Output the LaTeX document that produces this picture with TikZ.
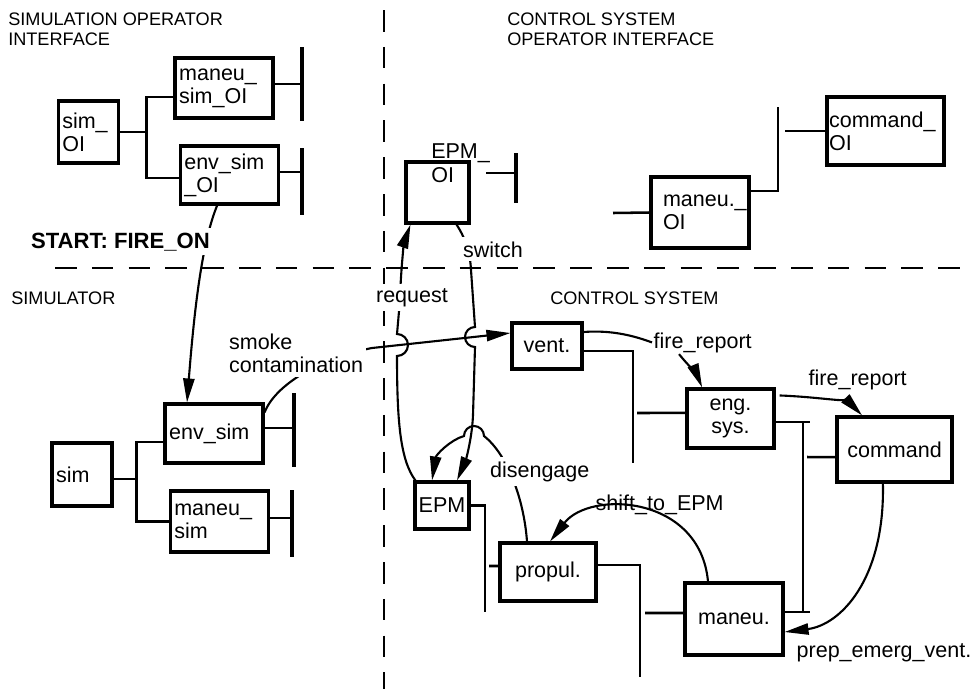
\documentclass[tikz,border=0pt]{standalone}
\usepackage{fontspec}
\setmainfont{Liberation Sans}
\usetikzlibrary{arrows.meta}

\begin{document}
\begin{tikzpicture}[
  x=0.25mm, y=0.25mm,
  font=\fontsize{15.3}{16.5}\selectfont,
  box/.style={draw, line width=2.2pt, inner sep=2pt, align=center},
  lbox/.style={draw, line width=2.2pt, inner xsep=3pt, inner ysep=0pt,
               align=left, text width=#1},
  region/.style={font=\fontsize{12.9}{13.8}\selectfont, align=left,
                 anchor=north west, inner sep=0pt},
  lab/.style={inner sep=1pt, anchor=base west},
  blank/.style={fill=white, inner xsep=2pt, inner ysep=3pt},
  wire/.style={line width=1.8pt},
  bar/.style={line width=2.4pt},
  arr/.style={line width=1.5pt, -{Triangle[length=6mm, width=2.8mm]}},
  divider/.style={line width=2pt, dash pattern=on 5.4mm off 3.8mm}]
\useasboundingbox[fill=white] (0,0) rectangle (973,-689);

% partitions
\draw[divider] (384,-10) -- (384,-689);
\draw[divider] (55,-268) -- (973,-268);
\node[region] (simoilab) at (8,-13) {SIMULATION OPERATOR\\INTERFACE};
\node[region] (csoilab) at (507,-13) {CONTROL SYSTEM\\OPERATOR INTERFACE};
\node[region] (simlab) at (11,-292) {SIMULATOR};
\node[region] (cslab) at (550,-292) {CONTROL SYSTEM};

% simulation operator interface
\node[lbox=13.1mm, minimum height=15.5mm] (simOI) at (88.5,-132) {sim\_\\OI};
\node[lbox=22.4mm, minimum height=15mm] (maneusimOI) at (224,-88) {maneu\_\\sim\_OI};
\node[lbox=22.6mm, minimum height=14.5mm] (envsimOI) at (229.5,-175) {env\_sim\\\_OI};
\draw[wire] (simOI.east) -- ++(26,0) coordinate (jA);
\draw[wire] ([yshift=-2.25mm]maneusimOI.west) -| (jA) |- ([yshift=-0.75mm]envsimOI.west);
\draw[wire] ([yshift=1mm]maneusimOI.east) -- ++(29,0);
\draw[bar] (302,-47) -- (302,-121);
\draw[wire] ([yshift=0.75mm]envsimOI.east) -- ++(23,0);
\draw[bar] (302,-148) -- (302,-215);

% control system operator interface
\node[box, minimum width=15.75mm, minimum height=15.25mm] (EPMOI) at (437.5,-192.5) {};
\node[anchor=north west, inner sep=0pt, align=left,
      font=\fontsize{15.3}{17.7}\selectfont] (EPMOItxt) at (431,-143) {EPM\_\\OI};
\node[lbox=18.5mm, inner xsep=3mm, minimum height=17.75mm] (maneuOI) at (700,-212.5) {maneu.\_\\OI};
\node[lbox=28.2mm, inner xsep=1.5pt, minimum height=17mm] (commandOI) at (885.5,-131) {command\_\\OI};
\draw[wire] (486,-173) -- (516,-173);
\draw[bar] (516,-153) -- (516,-203);
\draw[wire] (613,-213) -- (maneuOI.west);
\draw[wire] ([yshift=5.4mm]maneuOI.east) -| (778,-107);
\draw[wire] (785,-131) -- (commandOI.west);

% simulator
\node[lbox=12.9mm, minimum height=15.75mm] (sim) at (82,-474.5) {sim};
\node[lbox=22.4mm, minimum height=14.75mm] (envsim) at (214,-433.5) {env\_sim};
\node[lbox=22.6mm, minimum height=15.25mm] (maneusim) at (219.5,-521.5) {maneu\_\\sim};
\draw[wire] ([yshift=-1.1mm]sim.east) -- ++(23,0) coordinate (jB);
\draw[wire] ([yshift=-2.1mm]envsim.west) -| (jB) |- (maneusim.west);
\draw[wire] ([yshift=1.4mm]envsim.east) -- ++(31,0);
\draw[bar] (294,-393) -- (294,-467);
\draw[wire] ([yshift=0.9mm]maneusim.east) -- ++(23,0);
\draw[bar] (292,-490) -- (292,-557);

% control system
\node[box, minimum width=17.5mm, minimum height=11.5mm] (vent) at (547,-346) {vent.};
\node[box, minimum width=21.75mm, minimum height=14.75mm] (engsys) at (730.5,-418.5) {eng.\\sys.};
\node[box, minimum width=28.75mm, minimum height=16.25mm] (command) at (894.5,-449.5) {command};
\node[box, minimum width=13.5mm, minimum height=11.75mm, inner sep=0pt] (EPM) at (442,-505.5) {EPM};
\node[box, minimum width=24mm, minimum height=14.5mm] (propul) at (548,-572) {propul.};
\node[box, minimum width=24.5mm, minimum height=18mm] (maneu) at (734,-619) {maneu.};
\draw[wire] ([yshift=-1.25mm]vent.east) -| (633,-463);
\draw[wire] (637,-413) -- ([yshift=1.4mm]engsys.west);
\draw[wire] (EPM.east) -| (485,-612);
\draw[wire] (489,-566) -- ([yshift=1.5mm]propul.west);
\draw[wire] ([yshift=1.75mm]propul.east) -| (640,-677);
\draw[wire] (645,-613) -- ([yshift=1.5mm]maneu.west);
\draw[wire] ([yshift=-0.9mm]engsys.east) -- ++(34,0);
\draw[wire] (803,-422) -- (803,-612);
\draw[wire] ([yshift=1.75mm]maneu.east) -- ++(25,0);
\draw[wire] (807,-457) -- ([yshift=-1.9mm]command.west);

% events
\draw[arr] ([xshift=-3.1mm]envsimOI.south) .. controls (203,-240) and (195,-300) .. ([xshift=-6.75mm]envsim.north);
\draw[arr] ([yshift=-2.5mm]envsim.north east) .. controls (275,-385) and (320,-358) .. (372,-348)
  -- ([yshift=3.25mm]vent.west);
\draw[arr] ([xshift=0.5mm]EPM.north west) .. controls (400,-460) and (397,-420) .. (397,-356)
  arc[start angle=-90, end angle=90, radius=11] -- (400,-300)
  .. controls (401,-262) and (405,-240) .. ([xshift=1.5mm]EPMOI.south west);
\draw[arr] ([xshift=-3.5mm]EPMOI.south east) .. controls (464,-236) and (470,-250) .. (471,-270)
  -- (475,-327) arc[start angle=90, end angle=270, radius=10] -- (473,-415)
  .. controls (472,-440) and (465,-462) .. ([xshift=3.75mm]EPM.north);
\draw[arr] ([xshift=-5.25mm]propul.north) .. controls (524,-500) and (508,-455) .. (484,-436)
  arc[start angle=0, end angle=180, radius=10]
  .. controls (450,-440) and (436,-455) .. ([xshift=-2.5mm]EPM.north);
\draw[arr] ([xshift=-6.5mm]maneu.north) .. controls (700,-495) and (590,-490) .. ([xshift=0.5mm]propul.north);
\node[lab] (frA) at (652,-348) {fire\_report};
\draw[wire, line width=1.5pt] ([yshift=3.5mm]vent.east) .. controls (610,-330) and (632,-335) .. (frA.west);
\draw[arr] ([xshift=6.75mm]frA.south west) .. controls (688,-365) and (697,-375) .. ([xshift=-7.1mm]engsys.north);
\draw[arr] ([shift={(1mm,-2mm)}]engsys.north east) .. controls (820,-397) and (850,-403) .. ([xshift=-8.1mm]command.north);
\node[lab] (frB) at (807,-385) {fire\_report};
\draw[arr] ([xshift=-2.9mm]command.south) .. controls (885,-580) and (840,-625) .. ([yshift=-3.25mm]maneu.east);
\node[lab] (prep) at (795,-657) {prep\_emerg\_vent.};

% labels over the lines
\node[lab, blank, font=\fontsize{15.7}{17}\selectfont\bfseries] (startlab) at (28,-248) {START: FIRE\_ON};
\node[lab, blank, align=left, anchor=north west] (smokelab) at (226,-329) {smoke\\contamination};
\node[lab, blank] (reqlab) at (373,-302) {request};
\node[lab, blank] (swlab) at (460,-257) {switch};
\node[lab, blank] (dislab) at (487,-477) {disengage};
\node[lab] (shiftlab) at (594,-510) {shift\_to\_EPM};
\end{tikzpicture}
\end{document}
